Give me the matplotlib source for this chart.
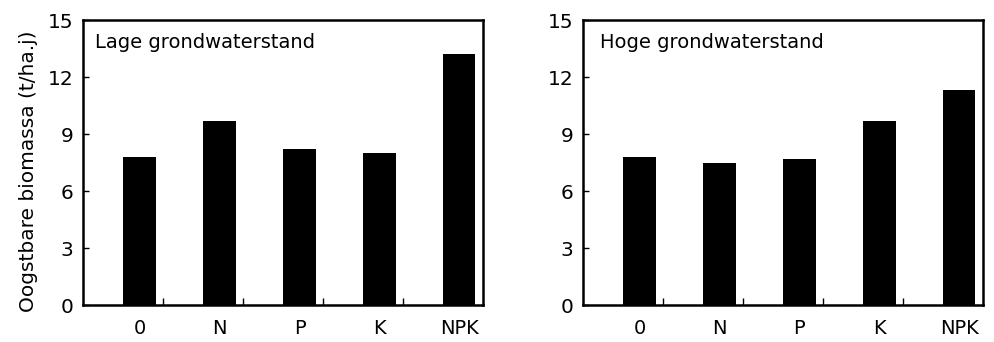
import matplotlib
matplotlib.use("Agg")
import matplotlib.pyplot as plt
import numpy as np

categories = ["0", "N", "P", "K", "NPK"]
lage = [7.8, 9.7, 8.2, 8.0, 13.2]
hoge = [7.8, 7.5, 7.7, 9.7, 11.3]
titles = ["Lage grondwaterstand", "Hoge grondwaterstand"]
yticks = [0, 3, 6, 9, 12, 15]
ylabel = "Oogstbare biomassa (t/ha.j)"

plt.rcParams['font.family'] = ['DejaVu Sans']

fig = plt.figure(figsize=(9.94, 3.42), dpi=100)
axes = [fig.add_axes([0.0835, 0.108, 0.4024, 0.8335]),
        fig.add_axes([0.5865, 0.108, 0.4024, 0.8335])]

x = np.arange(len(categories))
for ax, vals, title, tx in zip(axes, [lage, hoge], titles, [0.03, 0.043]):
    ax.bar(x, vals, width=0.41, color="black")
    ax.set_xlim(-0.7125, 4.3)
    ax.set_ylim(0, 15)
    ax.set_yticks(yticks)
    ax.set_xticks(x)
    ax.set_xticklabels(categories)
    ax.set_xticks(x[:-1] + 0.295, minor=True)
    ax.tick_params(axis='x', which='major', length=0, pad=10, labelsize=14)
    ax.tick_params(axis='x', which='minor', direction='in', length=5, width=1.0)
    ax.tick_params(axis='y', direction='in', length=4, width=1.0, pad=7, labelsize=14.5)
    for s in ax.spines.values():
        s.set_linewidth(1.8)
    ax.text(tx, 0.92, title, transform=ax.transAxes, fontsize=14, va='center', ha='left')

axes[0].set_ylabel(ylabel, fontsize=14.5)
axes[0].yaxis.set_label_coords(-0.112, 0.47)

fig.savefig("out.png", dpi=100)
